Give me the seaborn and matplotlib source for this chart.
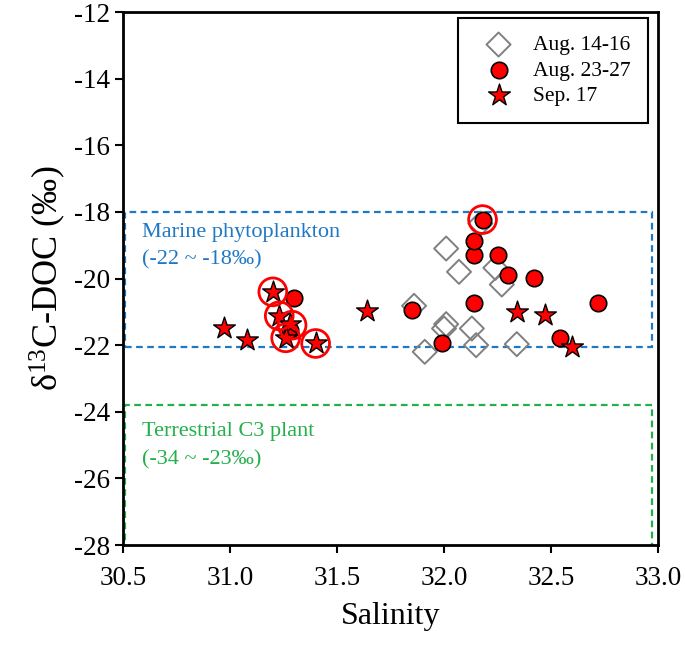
import numpy as np
import pandas as pd
import matplotlib
matplotlib.use('Agg')
import matplotlib.pyplot as plt
import seaborn as sns
from matplotlib.patches import Rectangle

# Aug. 14-16 (open diamonds)
aug14_sal = [31.86, 31.91, 32.00, 32.01, 32.01, 32.07, 32.13, 32.15, 32.17, 32.24, 32.27, 32.34]
aug14_d13c = [-20.82, -22.20, -21.50, -21.37, -19.10, -19.80, -21.50, -22.00, -18.35, -19.68, -20.18, -21.97]

# Aug. 23-27 (red circles)
aug23_sal = [31.30, 31.28, 31.85, 31.99, 32.14, 32.14, 32.14, 32.18, 32.25, 32.30, 32.42, 32.54, 32.72]
aug23_d13c = [-20.58, -21.55, -20.95, -21.95, -20.72, -19.30, -18.87, -18.23, -19.30, -19.90, -19.97, -21.78, -20.73]

# Sep. 17 (red stars)
sep17_sal = [30.97, 31.08, 31.20, 31.23, 31.28, 31.26, 31.40, 31.64, 32.34, 32.47, 32.60]
sep17_d13c = [-21.50, -21.85, -20.40, -21.12, -21.38, -21.78, -21.95, -20.97, -21.00, -21.10, -22.07]

# highlighted samples (red rings)
ring_sal = [31.20, 31.23, 31.29, 31.26, 31.40, 32.18]
ring_d13c = [-20.40, -21.12, -21.40, -21.78, -21.95, -18.23]

sns.set_style('ticks')
plt.rcParams['font.family'] = ['Liberation Serif', 'DejaVu Serif']
plt.rcParams['mathtext.fontset'] = 'custom'
plt.rcParams['mathtext.rm'] = 'Liberation Serif'
plt.rcParams['mathtext.it'] = 'Liberation Serif:italic'
plt.rcParams['axes.unicode_minus'] = False
plt.rcParams['text.color'] = 'black'
plt.rcParams['axes.labelcolor'] = 'black'

fig = plt.figure(figsize=(6.85, 6.6), dpi=100)
ax = fig.add_axes([0.1796, 0.1742, 0.7810, 0.8076])

# source boxes
ax.add_patch(Rectangle((30.51, -22.05), 2.46, 4.05, fill=False, edgecolor='#1f78c4',
                       linestyle=(0, (3, 2)), linewidth=1.6, zorder=1))
ax.add_patch(Rectangle((30.51, -29.0), 2.46, 5.2, fill=False, edgecolor='#22b04a',
                       linestyle=(0, (3, 2)), linewidth=1.6, zorder=1))
ax.text(30.59, -18.61, 'Marine phytoplankton', color='#1f78c4', fontsize=16, va='center')
ax.text(30.59, -19.45, '(-22 ~ -18‰)', color='#1f78c4', fontsize=16, va='center')
ax.text(30.59, -24.6, 'Terrestrial C3 plant', color='#22b04a', fontsize=16, va='center')
ax.text(30.59, -25.45, '(-34 ~ -23‰)', color='#22b04a', fontsize=16, va='center')

sns.scatterplot(x=aug14_sal, y=aug14_d13c, marker='D', s=150, facecolor='none',
                edgecolor='#808080', linewidth=1.4, label='Aug. 14-16', ax=ax, zorder=3)
sns.scatterplot(x=aug23_sal, y=aug23_d13c, marker='o', s=140, color='#ff0000',
                edgecolor='black', linewidth=1.2, label='Aug. 23-27', ax=ax, zorder=4)
sns.scatterplot(x=sep17_sal, y=sep17_d13c, marker='*', s=270, color='#ff0000',
                edgecolor='black', linewidth=1.0, label='Sep. 17', ax=ax, zorder=5)
ax.scatter(ring_sal, ring_d13c, marker='o', s=400, facecolor='none',
           edgecolor='#ff0000', linewidth=2.0, zorder=6)

ax.set_xlim(30.5, 33.0)
ax.set_ylim(-28, -12)
ax.set_xticks(np.arange(30.5, 33.01, 0.5))
ax.set_xticklabels(['30.5', '31.0', '31.5', '32.0', '32.5', '33.0'])
ax.set_yticks(np.arange(-28, -11, 2))
ax.tick_params(axis='both', labelsize=19.5, direction='out', length=6, width=1.5,
               colors='black')
ax.tick_params(axis='x', pad=9)
ax.set_xlabel('Salinity', fontsize=23, labelpad=8)
ax.set_ylabel('δ$^{\\mathrm{13}}$C-DOC (‰)', fontsize=26, labelpad=4)
for sp in ax.spines.values():
    sp.set_linewidth(2.0)
    sp.set_color('black')
    sp.set_visible(True)

leg = ax.legend(loc='upper right', bbox_to_anchor=(0.981, 0.989), borderaxespad=0,
                fontsize=15.5, frameon=True, fancybox=False, framealpha=1,
                edgecolor='black', borderpad=0.8, handlelength=2.2,
                handletextpad=0.5, labelspacing=0.25)
leg.get_frame().set_linewidth(1.5)

fig.savefig('out.png', dpi=100)
